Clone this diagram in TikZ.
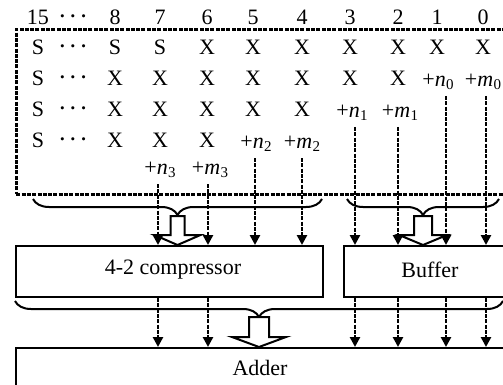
\documentclass[tikz,border=0pt]{standalone}
\usepackage{fontspec}
\setmainfont{Liberation Serif}
\usetikzlibrary{decorations.pathreplacing,arrows.meta}
\newcommand\pl[2]{+\textit{#1}\kern0.3pt\raisebox{-0.35ex}{\fontsize{15}{15}\selectfont #2}}
\newcommand\dts{{\boldmath$\cdots$}}
\newcommand\holarr[6]{\draw[hol] (#1-#5,#2) -- (#1+#5,#2) -- (#1+#5,#3) -- (#1+#6,#3) -- (#1,#4) -- (#1-#6,#3) -- (#1-#5,#3) -- cycle;}
\begin{document}
\begin{tikzpicture}[x=1pt,y=-1pt,
  txt/.style={font=\fontsize{22}{24}\selectfont, inner sep=0pt},
  box/.style={draw, line width=2pt, inner sep=0pt, anchor=north west},
  dotbox/.style={draw, line width=2.6pt, dash pattern=on 4pt off 1.3pt, inner sep=0pt, anchor=north west},
  darr/.style={line width=2.6pt, dash pattern=on 4pt off 1.3pt, -{Triangle[length=10pt,width=10pt]}},
  brc/.style={line width=2pt, decorate, decoration={brace, mirror, amplitude=16pt}},
  hol/.style={draw, line width=2pt, fill=white, line join=miter}]
\clip (0,0) rectangle (503,385);
% partial product frame
\node[dotbox, minimum width=520pt, minimum height=165pt] (pp) at (15,28) {};
% column headers
\foreach \n/\x/\t in {h15/38/15, hd/73/\dts, h8/115/8, h7/160/7, h6/207/6, h5/253/5, h4/302/4, h3/350/3, h2/398/2, h1/437/1, h0/483/0}
  \node[txt] (\n) at (\x,17) {\t};
% row 1
\foreach \n/\x/\t in {a15/38/S, ad/73/\dts, a8/115/S, a7/160/S, a6/207/X, a5/253/X, a4/302/X, a3/350/X, a2/398/X, a1/437/X, a0/483/X}
  \node[txt] (\n) at (\x,47) {\t};
% row 2
\foreach \n/\x/\t in {b15/38/S, bd/73/\dts, b8/115/X, b7/160/X, b6/207/X, b5/253/X, b4/302/X, b3/350/X, b2/398/X}
  \node[txt] (\n) at (\x,78) {\t};
\node[txt] (n0) at (438,82) {\pl{n}{0}};
\node[txt] (m0) at (483,82) {\pl{m}{0}};
% row 3
\foreach \n/\x/\t in {c15/38/S, cd/73/\dts, c8/115/X, c7/160/X, c6/207/X, c5/253/X, c4/302/X}
  \node[txt] (\n) at (\x,109) {\t};
\node[txt] (n1) at (352,113) {\pl{n}{1}};
\node[txt] (m1) at (400,113) {\pl{m}{1}};
% row 4
\foreach \n/\x/\t in {d15/38/S, dd/73/\dts, d8/115/X, d7/160/X, d6/207/X}
  \node[txt] (\n) at (\x,140) {\t};
\node[txt] (n2) at (256,144) {\pl{n}{2}};
\node[txt] (m2) at (302,144) {\pl{m}{2}};
% row 5
\node[txt] (n3) at (160,170) {\pl{n}{3}};
\node[txt] (m3) at (210,170) {\pl{m}{3}};
% boxes
\node[box, minimum width=307pt, minimum height=51pt] (comp) at (15,245) {};
\node[txt] (compt) at (173,270) {4-2 compressor};
\node[box, minimum width=200pt, minimum height=51pt] (buf) at (343,245) {};
\node[txt] (buft) at (430,270) {Buffer};
\node[box, minimum width=520pt, minimum height=60pt] (add) at (15,347) {};
\node[txt] (addt) at (260,368) {Adder};
% braces
\coordinate (b1l) at (33,199); \coordinate (b1r) at (322,199);
\coordinate (b2l) at (347,199); \coordinate (b2r) at (499,199);
\coordinate (b3l) at (15,301); \coordinate (b3r) at (503,301);
\draw[brc] (b1l) -- (b1r);
\draw[brc] (b2l) -- (b2r);
\draw[brc] (b3l) -- (b3r);
% hollow arrows
\holarr{177.5}{216}{235}{245}{7}{23}
\holarr{423}{216}{235}{245}{9}{24}
\holarr{259}{317}{337}{347}{10}{27}
% dashed arrows into compressor / buffer
\foreach \nm/\x/\y in {n3/158/184, m3/208/184, n2/255/158, m2/302/158}
  {\coordinate (s\nm) at (\x,\y); \draw[darr] (s\nm) -- (s\nm |- comp.north);}
\foreach \nm/\x/\y in {n1/355/127, m1/398/127, n0/446/96, m0/486/96}
  {\coordinate (s\nm) at (\x,\y); \draw[darr] (s\nm) -- (s\nm |- buf.north);}
% dashed arrows into adder
\foreach \nm/\x in {p1/158, p2/208}
  {\coordinate (\nm) at (\x,0); \draw[darr] (comp.south -| \nm) -- (add.north -| \nm);}
\foreach \nm/\x in {q1/355, q2/398, q3/446, q4/486}
  {\coordinate (\nm) at (\x,0); \draw[darr] (buf.south -| \nm) -- (add.north -| \nm);}
\end{tikzpicture}
\end{document}
